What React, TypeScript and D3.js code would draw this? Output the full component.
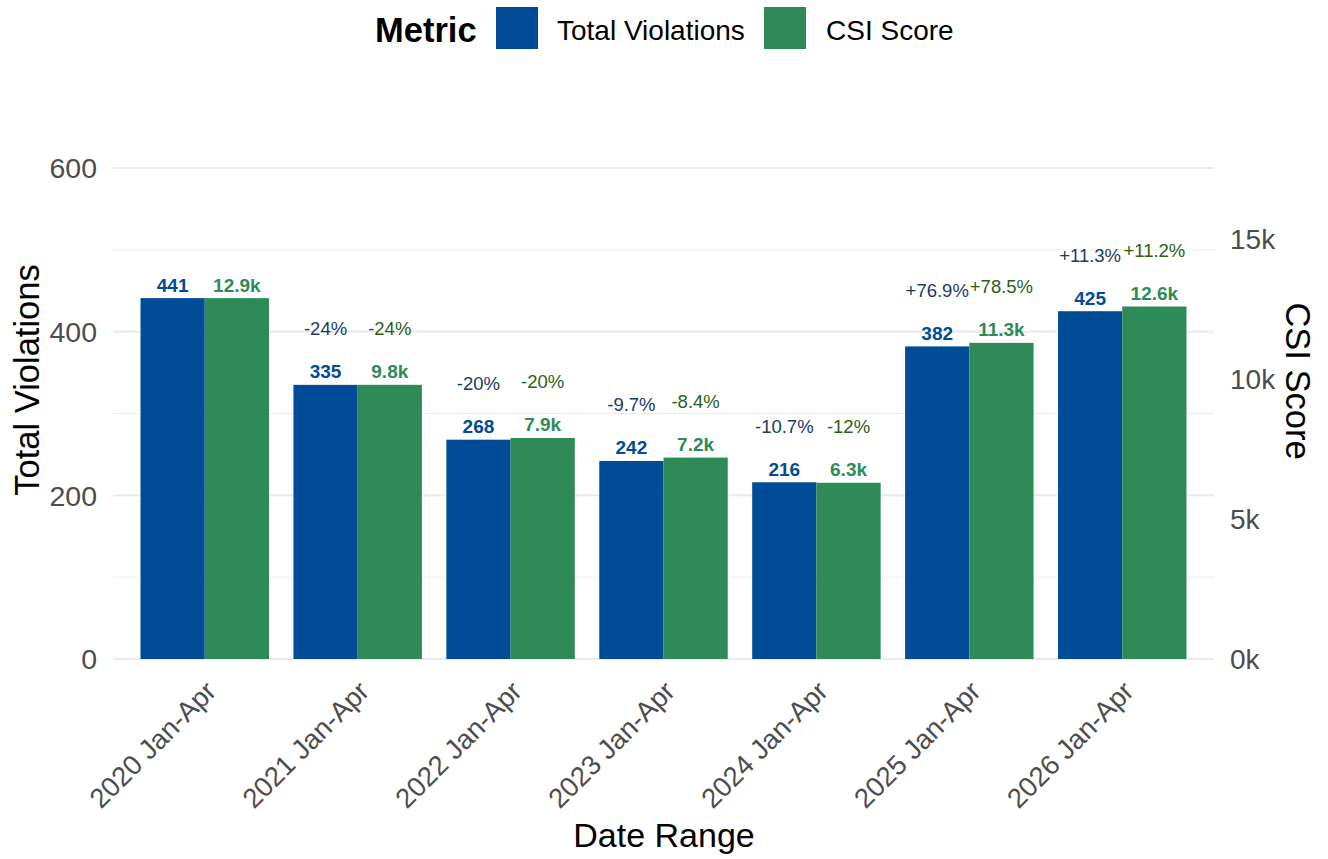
import React from "react";
import * as d3 from "d3";

const categories = [
  "2020 Jan-Apr",
  "2021 Jan-Apr",
  "2022 Jan-Apr",
  "2023 Jan-Apr",
  "2024 Jan-Apr",
  "2025 Jan-Apr",
  "2026 Jan-Apr",
];
const violations = [441, 335, 268, 242, 216, 382, 425];
const csiScores = [12900, 9800, 7900, 7200, 6300, 11300, 12600];
const violationPct = ["", "-24%", "-20%", "-9.7%", "-10.7%", "+76.9%", "+11.3%"];
const csiPct = ["", "-24%", "-20%", "-8.4%", "-12%", "+78.5%", "+11.2%"];
const leftTicks = [0, 200, 400, 600];
const leftMinor = [100, 300, 500];
const rightTicks = [0, 5000, 10000, 15000];

const BLUE = "#004C97";
const GREEN = "#2E8B57";
const BLUE_PCT = "#1B3A66";
const GREEN_PCT = "#2B5E16";
const FONT = "'Liberation Sans', Arial, sans-serif";

export default function App() {
  const W = 1328;
  const H = 859;
  const left = 113;
  const right = 1214;
  const y0 = 659;
  const yTop = 168;

  const factor = d3.max(csiScores)! / d3.max(violations)!;

  const x = d3
    .scaleBand<string>()
    .domain(categories)
    .range([left, right])
    .paddingInner(1)
    .paddingOuter(0.6);
  const step = x.step();
  const barW = step * 0.42;

  const y = d3.scaleLinear().domain([0, 600]).range([y0, yTop]);
  const yCsi = (v: number) => y(v / factor);

  const fmtK = (v: number) => (v / 1000).toFixed(1) + "k";

  return (
    <svg width={W} height={H} style={{ position: "absolute", left: 0, top: 0, background: "#fff" }} fontFamily={FONT}>
      <rect x={0} y={0} width={W} height={H} fill="#fff" />
      {/* legend */}
      <g>
        <text x={375} y={42} fontSize={34.5} fontWeight="bold" fill="#000">Metric</text>
        <rect x={496} y={7} width={42} height={42} fill={BLUE} />
        <text x={557} y={40} fontSize={28} fill="#000">Total Violations</text>
        <rect x={764} y={7} width={42} height={42} fill={GREEN} />
        <text x={826} y={40} fontSize={28} fill="#000">CSI Score</text>
      </g>
      {/* gridlines */}
      {leftMinor.map((t) => (
        <line key={"mi" + t} x1={left} x2={right} y1={y(t)} y2={y(t)} stroke="#ebebeb" strokeWidth={1} />
      ))}
      {leftTicks.map((t) => (
        <line key={"ma" + t} x1={left} x2={right} y1={y(t)} y2={y(t)} stroke="#ebebeb" strokeWidth={2.2} />
      ))}
      {/* bars */}
      {categories.map((c, i) => {
        const cx = x(c)!;
        return (
          <g key={c}>
            <rect x={cx - barW} y={y(violations[i])} width={barW} height={y0 - y(violations[i])} fill={BLUE} />
            <rect x={cx} y={yCsi(csiScores[i])} width={barW} height={y0 - yCsi(csiScores[i])} fill={GREEN} />
          </g>
        );
      })}
      {/* value labels */}
      {categories.map((c, i) => {
        const cx = x(c)!;
        const by = y(violations[i]);
        const gy = yCsi(csiScores[i]);
        return (
          <g key={"l" + c} textAnchor="middle">
            <text x={cx - barW / 2} y={by - 6.5} fontSize={19} fontWeight="bold" fill={BLUE}>{violations[i]}</text>
            <text x={cx + barW / 2} y={gy - 6.5} fontSize={19} fontWeight="bold" fill={GREEN}>{fmtK(csiScores[i])}</text>
            {violationPct[i] && (
              <text x={cx - barW / 2} y={by - 49.5} fontSize={18.5} fill={BLUE_PCT}>{violationPct[i]}</text>
            )}
            {csiPct[i] && (
              <text x={cx + barW / 2} y={gy - 49.5} fontSize={18.5} fill={GREEN_PCT}>{csiPct[i]}</text>
            )}
          </g>
        );
      })}
      {/* left axis */}
      {leftTicks.map((t) => (
        <text key={"lt" + t} x={97} y={y(t)} dy="0.36em" textAnchor="end" fontSize={28.5} fill="#4d4d4d">{t}</text>
      ))}
      {/* right axis */}
      {rightTicks.map((t) => (
        <text key={"rt" + t} x={1230} y={yCsi(t)} dy="0.36em" textAnchor="start" fontSize={28} fill="#4d4d4d">{t / 1000 + "k"}</text>
      ))}
      {/* x axis labels */}
      {categories.map((c) => (
        <text
          key={"xt" + c}
          transform={`translate(${x(c)! - 1},${679}) rotate(-45)`}
          dy="0.72em"
          textAnchor="end"
          fontSize={27.5}
          fill="#4d4d4d"
        >
          {c}
        </text>
      ))}
      {/* axis titles */}
      <text x={664} y={847} textAnchor="middle" fontSize={34} fill="#000">Date Range</text>
      <text transform={`translate(39,380) rotate(-90)`} textAnchor="middle" fontSize={34.5} fill="#000">Total Violations</text>
      <text transform={`translate(1286,381) rotate(90)`} textAnchor="middle" fontSize={34.5} fill="#000">CSI Score</text>
    </svg>
  );
}
